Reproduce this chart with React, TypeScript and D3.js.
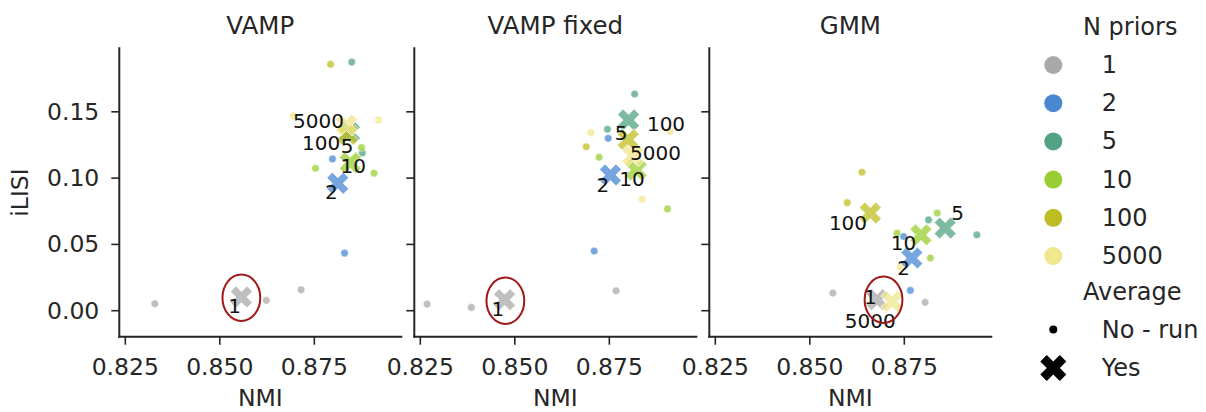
import React from "react";
import * as d3 from "d3";

const panelTitles = ["VAMP", "VAMP fixed", "GMM"];
const priorLevels = ["1", "2", "5", "10", "100", "5000"];
const priorColors = ["#a9a9a9", "#4a87d1", "#52a383", "#9acd32", "#bdbd22", "#f0e68c"];
const xTicks = [0.825, 0.85, 0.875];
const yTicks = [0, 0.05, 0.1, 0.15];

// individual runs: [panel, prior, NMI, iLISI]
const runs: [number, string, number, number][] = [
  [0, "1", 0.8328, 0.0053], [0, "1", 0.8623, 0.0078], [0, "1", 0.8715, 0.0158],
  [0, "2", 0.8798, 0.1145], [0, "2", 0.8830, 0.0434],
  [0, "5", 0.8849, 0.1875], [0, "5", 0.8877, 0.1190],
  [0, "10", 0.8875, 0.1230], [0, "10", 0.8753, 0.1074], [0, "10", 0.8908, 0.1037],
  [0, "100", 0.8793, 0.1858],
  [0, "5000", 0.8694, 0.1468], [0, "5000", 0.8920, 0.1438],

  [1, "1", 0.8268, 0.0050], [1, "1", 0.8385, 0.0025], [1, "1", 0.8768, 0.0151],
  [1, "2", 0.8710, 0.0450], [1, "2", 0.8747, 0.1300],
  [1, "5", 0.8817, 0.1634], [1, "5", 0.8745, 0.1368],
  [1, "10", 0.8723, 0.1157], [1, "10", 0.8904, 0.0768],
  [1, "100", 0.8689, 0.1237],
  [1, "5000", 0.8701, 0.1343], [1, "5000", 0.8837, 0.0841], [1, "5000", 0.8911, 0.1350],

  [2, "1", 0.8561, 0.0133], [2, "1", 0.8805, 0.0063],
  [2, "2", 0.8766, 0.0153], [2, "2", 0.8748, 0.0560],
  [2, "5", 0.8942, 0.0572], [2, "5", 0.8814, 0.0685],
  [2, "10", 0.8731, 0.0585], [2, "10", 0.8819, 0.0397], [2, "10", 0.8837, 0.0736],
  [2, "100", 0.8638, 0.1044], [2, "100", 0.8599, 0.0815],
  [2, "5000", 0.8739, 0.0330],
];

// averages: [panel, prior, NMI, iLISI]
const averages: [number, string, number, number][] = [
  [0, "1", 0.8557, 0.0103], [0, "2", 0.8812, 0.0961], [0, "5", 0.8843, 0.1343],
  [0, "10", 0.8845, 0.1115], [0, "100", 0.8838, 0.1330], [0, "5000", 0.8835, 0.1401],

  [1, "1", 0.8473, 0.0083], [1, "2", 0.8753, 0.1024], [1, "5", 0.8801, 0.1438],
  [1, "10", 0.8821, 0.1062], [1, "100", 0.8800, 0.1290], [1, "5000", 0.8812, 0.1168],

  [2, "1", 0.8678, 0.0083], [2, "2", 0.8770, 0.0397], [2, "5", 0.8858, 0.0623],
  [2, "10", 0.8794, 0.0572], [2, "100", 0.8660, 0.0736], [2, "5000", 0.8717, 0.0070],
];

// label positions for averages: [panel, text, NMI, iLISI]
const labels: [number, string, number, number][] = [
  [0, "1", 0.8539, 0.0032], [0, "2", 0.8795, 0.0898], [0, "5", 0.8837, 0.1242],
  [0, "10", 0.8853, 0.1092], [0, "100", 0.8768, 0.1262], [0, "5000", 0.8761, 0.1431],

  [1, "1", 0.8455, 0.0013], [1, "2", 0.8733, 0.0949], [1, "5", 0.8781, 0.1343],
  [1, "10", 0.8810, 0.0992], [1, "100", 0.8900, 0.1408], [1, "5000", 0.8872, 0.1187],

  [2, "1", 0.8660, 0.0103], [2, "2", 0.8748, 0.0321], [2, "5", 0.8891, 0.0740],
  [2, "10", 0.8748, 0.0514], [2, "100", 0.8601, 0.0665], [2, "5000", 0.8660, -0.0081],
];

// highlighted region centres: [panel, NMI, iLISI]
const highlights: [number, number, number][] = [
  [0, 0.8557, 0.0098], [1, 0.8475, 0.0075], [2, 0.8695, 0.0083],
];

const W = 1206, H = 412;
const panelLeft0 = 119.3, panelStep = 295, panelW = 282;
const top = 48.3, bottom = 336.7;
const ink = "#262626";
const font = "DejaVu Sans, sans-serif";

const xDomain: [number, number] = [0.82341, 0.89801];
const yDomain: [number, number] = [-0.0196, 0.1979];

const xPath = (s: number) => {
  const k = s / 4;
  const pts = [[-1, -2], [0, -1], [1, -2], [2, -1], [1, 0], [2, 1], [1, 2], [0, 1], [-1, 2], [-2, 1], [-1, 0], [-2, -1]];
  return "M" + pts.map(([a, b]) => `${a * k},${b * k}`).join("L") + "Z";
};

export default function App() {
  const y = d3.scaleLinear().domain(yDomain).range([bottom, top]);
  const colorOf = d3.scaleOrdinal<string, string>().domain(priorLevels).range(priorColors);
  const order = (p: string) => priorLevels.indexOf(p);

  return (
    <svg width={W} height={H} style={{ position: "absolute", left: 0, top: 0 }} fontFamily={font}>
      <rect width={W} height={H} fill="white" />
      {panelTitles.map((title, pi) => {
        const L = panelLeft0 + pi * panelStep;
        const x = d3.scaleLinear().domain(xDomain).range([L, L + panelW]);
        const pr = runs.filter((r) => r[0] === pi).sort((a, b) => order(a[1]) - order(b[1]));
        const pa = averages.filter((r) => r[0] === pi);
        const pl = labels.filter((r) => r[0] === pi);
        const hl = highlights.filter((r) => r[0] === pi);
        const rx = x(xDomain[0] + 0.005) - x(xDomain[0]);
        const ry = y(0) - y(0.0175);
        return (
          <g key={title}>
            <text x={L + panelW / 2} y={25} textAnchor="middle" dominantBaseline="central" fontSize={24.5} fill={ink}>
              {title}
            </text>
            {pr.map((r, i) => (
              <circle key={"r" + i} cx={x(r[2])} cy={y(r[3])} r={3.8} fill={colorOf(r[1])} fillOpacity={0.75} stroke="white" strokeWidth={0.5} />
            ))}
            {pa.map((r, i) => (
              <path key={"a" + i} d={xPath(22)} transform={`translate(${x(r[2])},${y(r[3])})`} fill={colorOf(r[1])} fillOpacity={0.75} stroke="white" strokeWidth={1} strokeOpacity={0.75} />
            ))}
            {pl.map((r, i) => (
              <text key={"l" + i} x={x(r[2])} y={y(r[3])} textAnchor="middle" dominantBaseline="central" fontSize={20} fill="#111">
                {r[1]}
              </text>
            ))}
            {hl.map((h, i) => (
              <ellipse key={"h" + i} cx={x(h[1])} cy={y(h[2])} rx={rx} ry={ry} fill="none" stroke="#a01a1a" strokeWidth={2} />
            ))}
            <line x1={L} x2={L} y1={top} y2={bottom} stroke={ink} strokeWidth={2} strokeLinecap="square" />
            <line x1={L} x2={L + panelW} y1={bottom} y2={bottom} stroke={ink} strokeWidth={2} strokeLinecap="square" />
            {xTicks.map((t) => (
              <g key={"xt" + t}>
                <line x1={x(t)} x2={x(t)} y1={bottom} y2={bottom + 8} stroke={ink} strokeWidth={1.6} />
                <text x={x(t)} y={367} textAnchor="middle" dominantBaseline="central" fontSize={23.5} fill={ink}>
                  {d3.format(".3f")(t)}
                </text>
              </g>
            ))}
            {yTicks.map((t) => (
              <g key={"yt" + t}>
                <line x1={L - 8} x2={L} y1={y(t)} y2={y(t)} stroke={ink} strokeWidth={1.6} />
                {pi === 0 && (
                  <text x={L - 20} y={y(t)} textAnchor="end" dominantBaseline="central" fontSize={23.5} fill={ink}>
                    {d3.format(".2f")(t)}
                  </text>
                )}
              </g>
            ))}
            <text x={L + panelW / 2} y={398} textAnchor="middle" dominantBaseline="central" fontSize={23.5} fill={ink}>
              NMI
            </text>
          </g>
        );
      })}
      <text transform={`translate(20,${(top + bottom) / 2}) rotate(-90)`} textAnchor="middle" dominantBaseline="central" fontSize={23.5} fill={ink}>
        iLISI
      </text>
      <g>
        <text x={1083} y={27} dominantBaseline="central" fontSize={24} fill={ink}>N priors</text>
        {priorLevels.map((p, i) => (
          <g key={"lg" + p}>
            <circle cx={1053.3} cy={65 + i * 38.2} r={9} fill={colorOf(p)} />
            <text x={1101.7} y={65 + i * 38.2} dominantBaseline="central" fontSize={24} fill={ink}>{p}</text>
          </g>
        ))}
        <text x={1083} y={292} dominantBaseline="central" fontSize={24} fill={ink}>Average</text>
        <circle cx={1053.3} cy={329.5} r={4} fill="black" />
        <text x={1101.7} y={329.5} dominantBaseline="central" fontSize={24} fill={ink}>No - run</text>
        <path d={xPath(26)} transform="translate(1053.3,368)" fill="black" />
        <text x={1101.7} y={368} dominantBaseline="central" fontSize={24} fill={ink}>Yes</text>
      </g>
    </svg>
  );
}
